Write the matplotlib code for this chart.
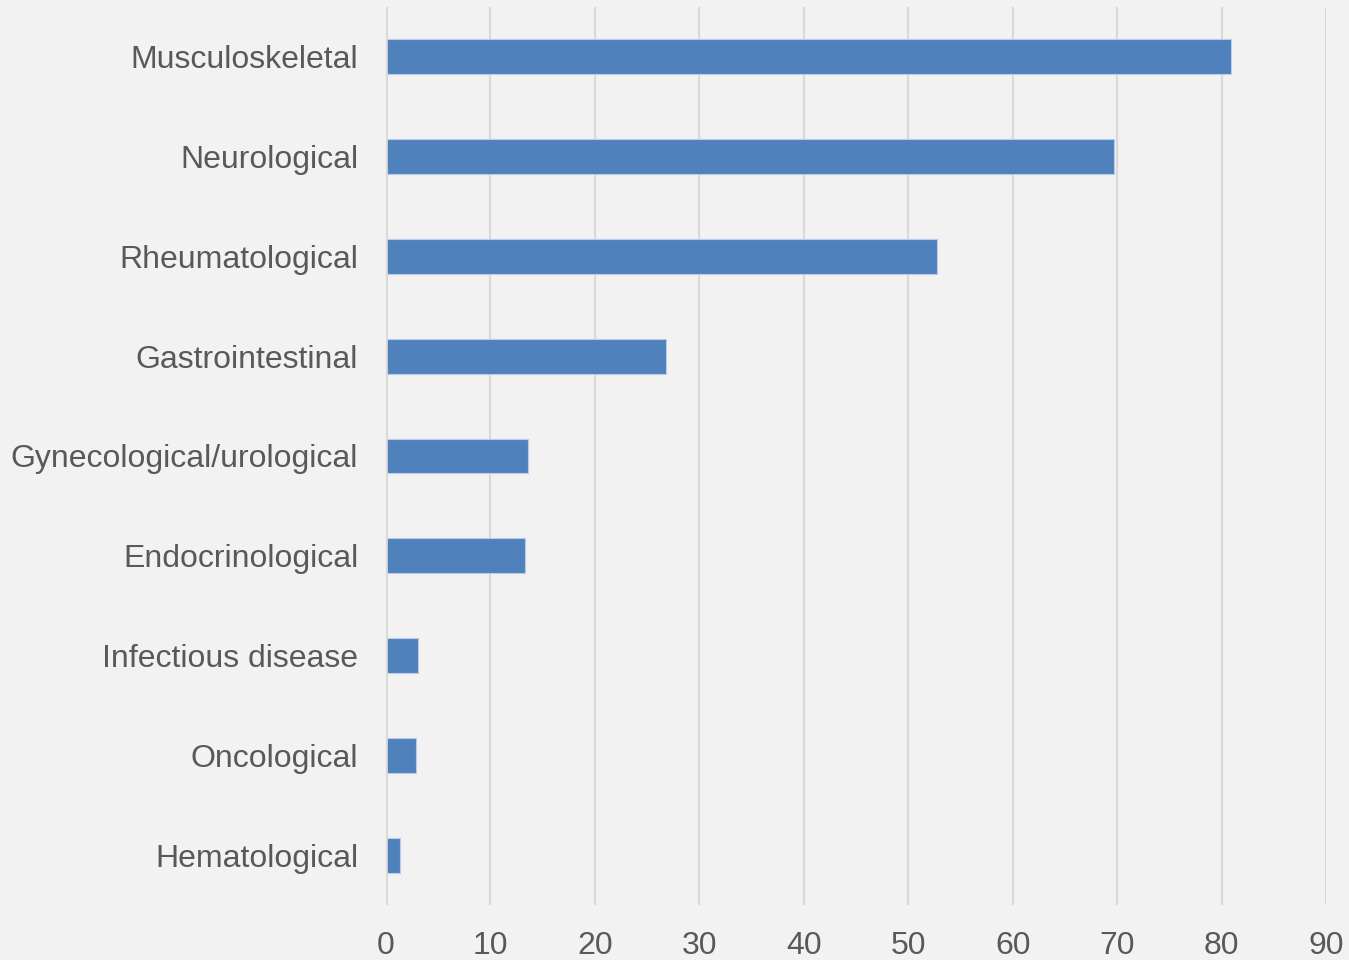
import matplotlib.pyplot as plt

# share of patients by primary category, top to bottom
categories = [
    "Musculoskeletal",
    "Neurological",
    "Rheumatological",
    "Gastrointestinal",
    "Gynecological/urological",
    "Endocrinological",
    "Infectious disease",
    "Oncological",
    "Hematological",
]
values = [80.9, 69.7, 52.8, 26.8, 13.6, 13.3, 3.1, 2.9, 1.3]
x_ticks = [0, 10, 20, 30, 40, 50, 60, 70, 80, 90]

BG = "#f2f2f2"
BAR = "#4f81bd"
TEXT = "#595959"

plt.rcParams["font.family"] = ["Liberation Sans", "DejaVu Sans"]

fig = plt.figure(figsize=(13.49, 9.6), dpi=100, facecolor=BG)
ax = fig.add_axes([386 / 1349, 1 - 905 / 960, (1326 - 386) / 1349, 898 / 960])
ax.set_facecolor(BG)

pos = list(range(len(categories)))
ax.barh(pos, values, height=0.35, color=BAR, edgecolor="#b7cde8",
        linewidth=0.8, zorder=3)

ax.set_ylim(len(categories) - 0.5, -0.5)
ax.set_yticks(pos)
ax.set_yticklabels(categories)
ax.set_xlim(0, 90)
ax.set_xticks(x_ticks)

ax.grid(axis="x", color="#d9d9d9", linewidth=1.5, zorder=0)
ax.axvline(0, color="#d9d9d9", linewidth=2, zorder=4)
for s in ax.spines.values():
    s.set_visible(False)

ax.tick_params(axis="y", length=0, pad=20, labelsize=23, labelcolor=TEXT)
ax.tick_params(axis="x", length=0, pad=19, labelsize=23, labelcolor=TEXT)

fig.savefig("out.png", dpi=100, facecolor=BG)
